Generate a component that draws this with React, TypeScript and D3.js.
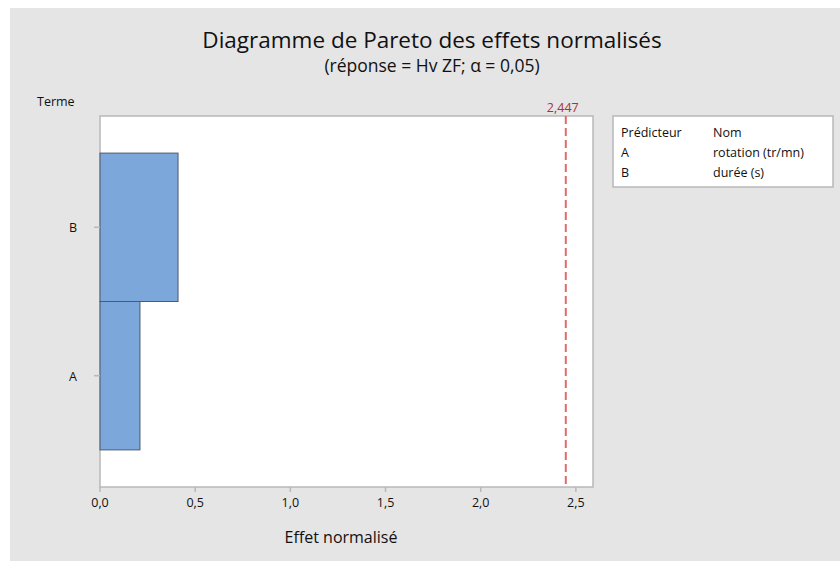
import React from "react";
import * as d3 from "d3";

const terms = ["B", "A"];
const effects = [0.41, 0.21];
const xTicks = [0, 0.5, 1.0, 1.5, 2.0, 2.5];
const critical = 2.447;
const legendHeader = ["Prédicteur", "Nom"];
const legendCodes = ["A", "B"];
const legendNames = ["rotation (tr/mn)", "durée (s)"];

const W = 840;
const H = 561;
const FONT = "'Open Sans', 'Noto Sans', sans-serif";
const INK = "#111111";

export default function App() {
  const left = 100, right = 593, top = 116, bottom = 487;
  const x = d3.scaleLinear().domain([0, 2.59]).range([left, right]);
  const y = d3.scaleBand<string>().domain(terms).range([top, bottom]).paddingInner(0).paddingOuter(0.25);
  const fmt = (v: number) => v.toFixed(1).replace(".", ",");
  const fmt3 = (v: number) => v.toFixed(3).replace(".", ",");

  return (
    <svg width={W} height={H} style={{ position: "absolute", left: 0, top: 0 }} fontFamily={FONT}>
      <rect x={0} y={0} width={W} height={H} fill="#ffffff" />
      <rect x={10} y={8} width={W - 10} height={H - 8} fill="#e5e5e5" />
      <text x={432} y={48} textAnchor="middle" fontSize={22.5} fill={INK}>
        Diagramme de Pareto des effets normalisés
      </text>
      <text x={432} y={72} textAnchor="middle" fontSize={17.5} fill={INK}>
        (réponse = Hv ZF; α = 0,05)
      </text>
      <text x={37} y={106} fontSize={12.5} fill={INK}>Terme</text>

      <rect x={left} y={top} width={right - left} height={bottom - top} fill="#ffffff" stroke="#b8b8b8" strokeWidth={1.5} />

      {terms.map((t, i) => (
        <rect key={t} x={x(0)} y={y(t)!} width={x(effects[i]) - x(0)} height={y.bandwidth()}
          fill="#7ba7da" stroke="#4d5b6e" strokeWidth={1} />
      ))}

      <line x1={x(critical)} x2={x(critical)} y1={top} y2={bottom} stroke="#e36a6a" strokeWidth={2} strokeDasharray="8,4" />
      <text x={x(critical) - 3} y={112} textAnchor="middle" fontSize={12.5} fill="#a83434">{fmt3(critical)}</text>

      {terms.map((t) => (
        <g key={t}>
          <line x1={left - 6} x2={left} y1={y(t)! + y.bandwidth() / 2} y2={y(t)! + y.bandwidth() / 2} stroke="#b8b8b8" strokeWidth={1.5} />
          <text x={73} y={y(t)! + y.bandwidth() / 2 + 5} textAnchor="middle" fontSize={12.5} fill={INK}>{t}</text>
        </g>
      ))}

      {xTicks.map((v) => (
        <g key={v}>
          <line x1={x(v)} x2={x(v)} y1={bottom} y2={bottom + 5} stroke="#b8b8b8" strokeWidth={1.5} />
          <text x={x(v)} y={bottom + 20} textAnchor="middle" fontSize={12.5} fill={INK}>{fmt(v)}</text>
        </g>
      ))}
      <text x={341} y={543} textAnchor="middle" fontSize={16} fill={INK}>Effet normalisé</text>

      <rect x={613} y={116} width={220} height={71} fill="#ffffff" stroke="#b8b8b8" strokeWidth={1.5} />
      <text x={621} y={137} fontSize={12.5} fill={INK}>{legendHeader[0]}</text>
      <text x={713} y={137} fontSize={12.5} fill={INK}>{legendHeader[1]}</text>
      {legendCodes.map((c, i) => (
        <g key={c}>
          <text x={621} y={157 + i * 20} fontSize={12.5} fill={INK}>{c}</text>
          <text x={713} y={157 + i * 20} fontSize={12.5} fill={INK}>{legendNames[i]}</text>
        </g>
      ))}
    </svg>
  );
}
